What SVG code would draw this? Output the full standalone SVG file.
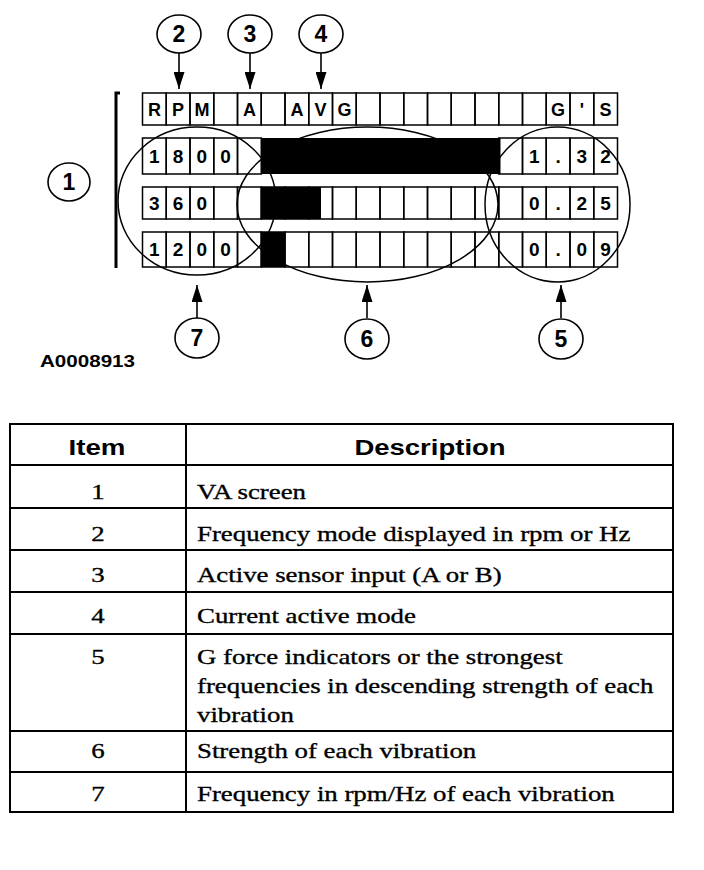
<svg xmlns="http://www.w3.org/2000/svg" width="704" height="870" viewBox="0 0 704 870">
<style>
.cell{fill:none;stroke:#000;stroke-width:1.5}
.bar{fill:#000}
.lbl{font-family:"Liberation Sans",Arial,sans-serif;font-weight:bold;font-size:18px;text-anchor:middle;fill:#000}
.dig{font-family:"Liberation Sans",Arial,sans-serif;font-weight:bold;font-size:19px;text-anchor:middle;fill:#000}
.ring{fill:#fff;stroke:#000;stroke-width:1.6}
.num{font-family:"Liberation Sans",Arial,sans-serif;font-weight:bold;font-size:23px;text-anchor:middle;fill:#000}
.ell{fill:none;stroke:#000;stroke-width:1.5}
.con{stroke:#000;stroke-width:1.6;fill:none;marker-end:url(#ah)}
.tb{fill:none;stroke:#000;stroke-width:2}
.th{font-family:"Liberation Sans",Arial,sans-serif;font-weight:bold;font-size:22px;text-anchor:middle;fill:#000}
.td{font-family:"Liberation Serif","Times New Roman",serif;font-size:22px;fill:#000;stroke:#000;stroke-width:0.35}
.tn{font-family:"Liberation Serif","Times New Roman",serif;font-size:22px;text-anchor:middle;fill:#000;stroke:#000;stroke-width:0.35}
</style>
<defs>
<marker id="ah" markerUnits="userSpaceOnUse" markerWidth="17" markerHeight="11" refX="17" refY="5.5" orient="auto" viewBox="0 0 17 11"><path d="M0,0 L17,5.5 L0,11 z" fill="#000"/></marker>
</defs>
<rect width="704" height="870" fill="#fff"/>

<g id="screen">
<path d="M120,93 L116,93 L116,268" fill="none" stroke="#000" stroke-width="3"/>
<g id="row-header">
<rect class="cell" x="142.5" y="93" width="23.75" height="32"/>
<rect class="cell" x="166.25" y="93" width="23.75" height="32"/>
<rect class="cell" x="190" y="93" width="23.75" height="32"/>
<rect class="cell" x="213.75" y="93" width="23.75" height="32"/>
<rect class="cell" x="237.5" y="93" width="23.75" height="32"/>
<rect class="cell" x="261.25" y="93" width="23.75" height="32"/>
<rect class="cell" x="285" y="93" width="23.75" height="32"/>
<rect class="cell" x="308.75" y="93" width="23.75" height="32"/>
<rect class="cell" x="332.5" y="93" width="23.75" height="32"/>
<rect class="cell" x="356.25" y="93" width="23.75" height="32"/>
<rect class="cell" x="380" y="93" width="23.75" height="32"/>
<rect class="cell" x="403.75" y="93" width="23.75" height="32"/>
<rect class="cell" x="427.5" y="93" width="23.75" height="32"/>
<rect class="cell" x="451.25" y="93" width="23.75" height="32"/>
<rect class="cell" x="475" y="93" width="23.75" height="32"/>
<rect class="cell" x="498.75" y="93" width="23.75" height="32"/>
<rect class="cell" x="522.5" y="93" width="23.75" height="32"/>
<rect class="cell" x="546.25" y="93" width="23.75" height="32"/>
<rect class="cell" x="570" y="93" width="23.75" height="32"/>
<rect class="cell" x="593.75" y="93" width="23.75" height="32"/>
<text class="lbl" x="154.4" y="116">R</text>
<text class="lbl" x="178.1" y="116">P</text>
<text class="lbl" x="201.9" y="116">M</text>
<text class="lbl" x="249.4" y="116">A</text>
<text class="lbl" x="296.9" y="116">A</text>
<text class="lbl" x="320.6" y="116">V</text>
<text class="lbl" x="344.4" y="116">G</text>
<text class="lbl" x="558.1" y="116">G</text>
<text class="lbl" x="581.9" y="116">'</text>
<text class="lbl" x="605.6" y="116">S</text>
</g>
<g id="row-1800">
<rect class="cell" x="142.5" y="138" width="23.75" height="36"/>
<rect class="cell" x="166.25" y="138" width="23.75" height="36"/>
<rect class="cell" x="190" y="138" width="23.75" height="36"/>
<rect class="cell" x="213.75" y="138" width="23.75" height="36"/>
<rect class="cell" x="237.5" y="138" width="23.75" height="36"/>
<rect class="cell" x="498.75" y="138" width="23.75" height="36"/>
<rect class="cell" x="522.5" y="138" width="23.75" height="36"/>
<rect class="cell" x="546.25" y="138" width="23.75" height="36"/>
<rect class="cell" x="570" y="138" width="23.75" height="36"/>
<rect class="cell" x="593.75" y="138" width="23.75" height="36"/>
<rect class="bar" x="261" y="138" width="239.5" height="36"/>
<text class="dig" x="154.4" y="163">1</text>
<text class="dig" x="178.1" y="163">8</text>
<text class="dig" x="201.9" y="163">0</text>
<text class="dig" x="225.6" y="163">0</text>
<text class="dig" x="534.4" y="163">1</text>
<text class="dig" x="558.1" y="163">.</text>
<text class="dig" x="581.9" y="163">3</text>
<text class="dig" x="605.6" y="163">2</text>
</g>
<g id="row-360">
<rect class="cell" x="142.5" y="187" width="23.75" height="32"/>
<rect class="cell" x="166.25" y="187" width="23.75" height="32"/>
<rect class="cell" x="190" y="187" width="23.75" height="32"/>
<rect class="cell" x="213.75" y="187" width="23.75" height="32"/>
<rect class="cell" x="237.5" y="187" width="23.75" height="32"/>
<rect class="cell" x="261.25" y="187" width="23.75" height="32"/>
<rect class="cell" x="285" y="187" width="23.75" height="32"/>
<rect class="cell" x="308.75" y="187" width="23.75" height="32"/>
<rect class="cell" x="332.5" y="187" width="23.75" height="32"/>
<rect class="cell" x="356.25" y="187" width="23.75" height="32"/>
<rect class="cell" x="380" y="187" width="23.75" height="32"/>
<rect class="cell" x="403.75" y="187" width="23.75" height="32"/>
<rect class="cell" x="427.5" y="187" width="23.75" height="32"/>
<rect class="cell" x="451.25" y="187" width="23.75" height="32"/>
<rect class="cell" x="475" y="187" width="23.75" height="32"/>
<rect class="cell" x="498.75" y="187" width="23.75" height="32"/>
<rect class="cell" x="522.5" y="187" width="23.75" height="32"/>
<rect class="cell" x="546.25" y="187" width="23.75" height="32"/>
<rect class="cell" x="570" y="187" width="23.75" height="32"/>
<rect class="cell" x="593.75" y="187" width="23.75" height="32"/>
<rect class="bar" x="261" y="187" width="60" height="32"/>
<text class="dig" x="154.4" y="210">3</text>
<text class="dig" x="178.1" y="210">6</text>
<text class="dig" x="201.9" y="210">0</text>
<text class="dig" x="534.4" y="210">0</text>
<text class="dig" x="558.1" y="210">.</text>
<text class="dig" x="581.9" y="210">2</text>
<text class="dig" x="605.6" y="210">5</text>
</g>
<g id="row-1200">
<rect class="cell" x="142.5" y="232" width="23.75" height="35"/>
<rect class="cell" x="166.25" y="232" width="23.75" height="35"/>
<rect class="cell" x="190" y="232" width="23.75" height="35"/>
<rect class="cell" x="213.75" y="232" width="23.75" height="35"/>
<rect class="cell" x="237.5" y="232" width="23.75" height="35"/>
<rect class="cell" x="261.25" y="232" width="23.75" height="35"/>
<rect class="cell" x="285" y="232" width="23.75" height="35"/>
<rect class="cell" x="308.75" y="232" width="23.75" height="35"/>
<rect class="cell" x="332.5" y="232" width="23.75" height="35"/>
<rect class="cell" x="356.25" y="232" width="23.75" height="35"/>
<rect class="cell" x="380" y="232" width="23.75" height="35"/>
<rect class="cell" x="403.75" y="232" width="23.75" height="35"/>
<rect class="cell" x="427.5" y="232" width="23.75" height="35"/>
<rect class="cell" x="451.25" y="232" width="23.75" height="35"/>
<rect class="cell" x="475" y="232" width="23.75" height="35"/>
<rect class="cell" x="498.75" y="232" width="23.75" height="35"/>
<rect class="cell" x="522.5" y="232" width="23.75" height="35"/>
<rect class="cell" x="546.25" y="232" width="23.75" height="35"/>
<rect class="cell" x="570" y="232" width="23.75" height="35"/>
<rect class="cell" x="593.75" y="232" width="23.75" height="35"/>
<rect class="bar" x="261" y="232" width="24" height="35"/>
<text class="dig" x="154.4" y="256">1</text>
<text class="dig" x="178.1" y="256">2</text>
<text class="dig" x="201.9" y="256">0</text>
<text class="dig" x="225.6" y="256">0</text>
<text class="dig" x="534.4" y="256">0</text>
<text class="dig" x="558.1" y="256">.</text>
<text class="dig" x="581.9" y="256">0</text>
<text class="dig" x="605.6" y="256">9</text>
</g>
</g>

<g id="zones">
<ellipse id="zone-7" class="ell" cx="197" cy="201" rx="79" ry="74"/>
<ellipse id="zone-6" class="ell" cx="367.5" cy="204.5" rx="130.5" ry="77.5"/>
<ellipse id="zone-5" class="ell" cx="557.5" cy="204.5" rx="72.5" ry="77.5"/>
</g>

<g id="connectors">
<line class="con" x1="179" y1="53" x2="179" y2="89"/>
<line class="con" x1="250" y1="53" x2="250" y2="89"/>
<line class="con" x1="321" y1="53" x2="321" y2="89"/>
<line class="con" x1="197" y1="318" x2="197" y2="285"/>
<line class="con" x1="367" y1="318" x2="367" y2="285"/>
<line class="con" x1="561" y1="318" x2="561" y2="285"/>
</g>

<g id="callout-1"><ellipse class="ring" cx="69" cy="182" rx="21" ry="19"/><text class="num" x="69" y="190">1</text></g>
<g id="callout-2"><ellipse class="ring" cx="179" cy="34" rx="22" ry="19"/><text class="num" x="179" y="42">2</text></g>
<g id="callout-3"><ellipse class="ring" cx="250" cy="34" rx="22" ry="19"/><text class="num" x="250" y="42">3</text></g>
<g id="callout-4"><ellipse class="ring" cx="321" cy="34" rx="22" ry="19"/><text class="num" x="321" y="42">4</text></g>
<g id="callout-7"><ellipse class="ring" cx="197" cy="338" rx="22" ry="20"/><text class="num" x="197" y="346">7</text></g>
<g id="callout-6"><ellipse class="ring" cx="367" cy="339" rx="22" ry="20"/><text class="num" x="367" y="347">6</text></g>
<g id="callout-5"><ellipse class="ring" cx="561" cy="339" rx="22" ry="20"/><text class="num" x="561" y="347">5</text></g>

<text x="40" y="367" font-family="Liberation Sans, Arial, sans-serif" font-weight="bold" font-size="16" textLength="95" lengthAdjust="spacingAndGlyphs">A0008913</text>

<g id="table">
<rect class="tb" x="10" y="424" width="663" height="388"/>
<line class="tb" x1="186" y1="424" x2="186" y2="812"/>
<line class="tb" x1="10" y1="465" x2="673" y2="465"/>
<line class="tb" x1="10" y1="508" x2="673" y2="508"/>
<line class="tb" x1="10" y1="550" x2="673" y2="550"/>
<line class="tb" x1="10" y1="592" x2="673" y2="592"/>
<line class="tb" x1="10" y1="634" x2="673" y2="634"/>
<line class="tb" x1="10" y1="731" x2="673" y2="731"/>
<line class="tb" x1="10" y1="772" x2="673" y2="772"/>
<text class="th" transform="translate(97,455) scale(1.26,1)">Item</text>
<text class="th" transform="translate(430,455) scale(1.25,1)">Description</text>
<text class="tn" transform="translate(98,499) scale(1.22,1)">1</text>
<text class="tn" transform="translate(98,541) scale(1.22,1)">2</text>
<text class="tn" transform="translate(98,582) scale(1.22,1)">3</text>
<text class="tn" transform="translate(98,623) scale(1.22,1)">4</text>
<text class="tn" transform="translate(98,664) scale(1.22,1)">5</text>
<text class="tn" transform="translate(98,758) scale(1.22,1)">6</text>
<text class="tn" transform="translate(98,801) scale(1.22,1)">7</text>
<text class="td" transform="translate(197,499) scale(1.22,1)">VA screen</text>
<text class="td" transform="translate(197,541) scale(1.22,1)">Frequency mode displayed in rpm or Hz</text>
<text class="td" transform="translate(197,582) scale(1.22,1)">Active sensor input (A or B)</text>
<text class="td" transform="translate(197,623) scale(1.22,1)">Current active mode</text>
<text class="td" transform="translate(197,664) scale(1.22,1)">G force indicators or the strongest</text>
<text class="td" transform="translate(197,693) scale(1.22,1)">frequencies in descending strength of each</text>
<text class="td" transform="translate(197,722) scale(1.22,1)">vibration</text>
<text class="td" transform="translate(197,758) scale(1.22,1)">Strength of each vibration</text>
<text class="td" transform="translate(197,801) scale(1.22,1)">Frequency in rpm/Hz of each vibration</text>
</g>
</svg>
